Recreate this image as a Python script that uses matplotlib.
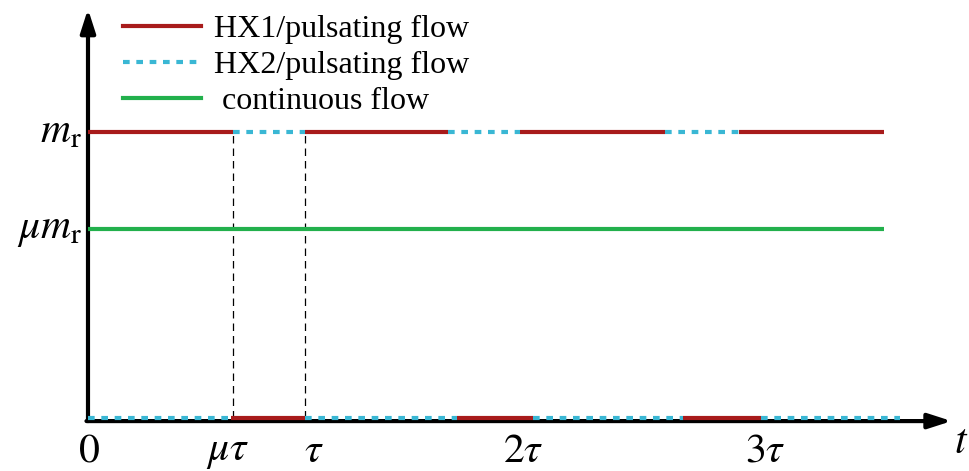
import matplotlib.pyplot as plt
from matplotlib.lines import Line2D

plt.rcParams['font.family'] = ['Liberation Serif', 'DejaVu Serif']
plt.rcParams['mathtext.fontset'] = 'stix'

# data (time in units of tau, flow in units of m_r)
mu = 0.66
m_r = 1.0
# HX1 (red) / HX2 (cyan) segments along the top level m_r
top_red = [(0.0, 0.668), (1.0, 1.66), (1.99, 2.66), (3.0, 3.67)]
top_cyan = [(0.668, 1.0), (1.66, 1.99), (2.66, 3.0)]
# segments along the zero level
bot_red = [(0.66, 1.0), (1.70, 2.05), (2.74, 3.10)]
bot_cyan = [(0.0, 0.66), (1.0, 1.70), (2.05, 2.74), (3.10, 3.74)]
cont_end = 3.67
guides = [0.668, 1.0]
xtick_pos = [0.005, 0.645, 1.04, 2.005, 3.12]
xtick_lab = ['$0$', r'$\mu\tau$', r'$\tau$', r'$2\tau$', r'$3\tau$']
ytick_pos = [m_r, mu * m_r]
ytick_lab = [r'$m_{\rm r}$', r'$\mu m_{\rm r}$']

red = '#a81b1b'
cyan = '#3ab7d4'
green = '#22b04c'
dots = (0, (1.6, 1.6))

fig = plt.figure(figsize=(9.69, 4.71), dpi=100)
ax = fig.add_axes([0, 0, 1, 1])
ax.set_xlim(-0.4055, 4.06)
ax.set_ylim(-0.185, 1.4615)
ax.axis('off')

# axes with arrows
ax.annotate('', xy=(0, 1.43), xytext=(0, -0.0105),
            arrowprops=dict(arrowstyle='-|>,head_length=1.4,head_width=0.45',
                            color='black', lw=3, shrinkA=0, shrinkB=0))
ax.annotate('', xy=(3.98, -0.0105), xytext=(-0.007, -0.0105),
            arrowprops=dict(arrowstyle='-|>,head_length=1.4,head_width=0.45',
                            color='black', lw=3, shrinkA=0, shrinkB=0))

# guide lines
for g in guides:
    ax.plot([g, g], [0, m_r], color='black', lw=0.9, ls=(0, (6, 4)), zorder=1)

# continuous flow
ax.plot([0, cont_end], [mu * m_r, mu * m_r], color=green, lw=3, solid_capstyle='butt', zorder=3)

# pulsating flows
for a, b in top_red:
    ax.plot([a, b], [m_r, m_r], color=red, lw=3, solid_capstyle='butt', zorder=3)
for a, b in top_cyan:
    ax.plot([a, b], [m_r, m_r], color=cyan, lw=3, ls=dots, zorder=3)
for a, b in bot_red:
    ax.plot([a, b], [0, 0], color=red, lw=3, solid_capstyle='butt', zorder=3)
for a, b in bot_cyan:
    ax.plot([a, b], [0, 0], color=cyan, lw=3, ls=dots, zorder=3)

# tick labels
for x, s in zip(xtick_pos, xtick_lab):
    ax.text(x, -0.05, s, ha='center', va='top', fontsize=30)
for y, s in zip(ytick_pos, ytick_lab):
    ax.text(-0.028, y, s, ha='right', va='center', fontsize=30)
ax.text(3.99, -0.02, '$t$', ha='left', va='top', fontsize=30)

# legend
handles = [Line2D([], [], color=red, lw=3),
           Line2D([], [], color=cyan, lw=3, ls=dots),
           Line2D([], [], color=green, lw=3)]
labels = ['HX1/pulsating flow', 'HX2/pulsating flow', ' continuous flow']
ax.legend(handles, labels, loc='upper left', bbox_to_anchor=(0.104, 1.017),
          frameon=False, fontsize=23, handlelength=2.45, handletextpad=0.4,
          labelspacing=0.21, borderpad=0.2)

plt.savefig('out.png', dpi=100)
